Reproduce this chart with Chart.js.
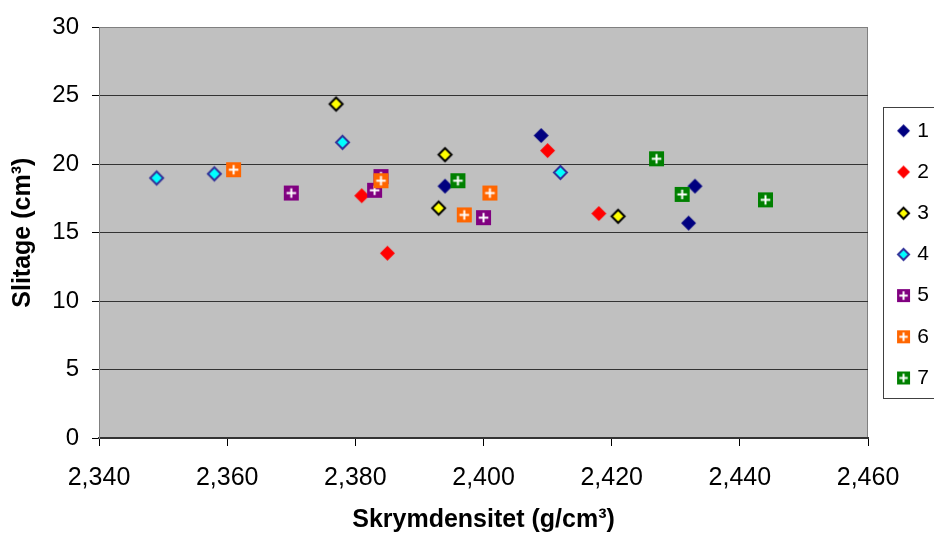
<!DOCTYPE html>
<html lang="da">
<head>
<meta charset="UTF-8">
<title>Slitage mod skrymdensitet</title>
<style>
    body, html {
        margin: 0;
        padding: 0;
        background: #fff;
        overflow: hidden;
    }
    #chart {
        display: block;
    }
</style>
</head>
<body>
<canvas id="chart" width="934" height="535"></canvas>

<script src="https://cdn.jsdelivr.net/npm/chart.js@4"></script>
<script>
    // Skrymdensitet (g/cm³) and slitage (cm³) per serie
    const labels = ['1', '2', '3', '4', '5', '6', '7'];

    const dens1 = [2.394, 2.409, 2.432, 2.433];
    const slit1 = [18.4, 22.1, 15.7, 18.4];
    const dens2 = [2.381, 2.385, 2.410, 2.418];
    const slit2 = [17.7, 13.5, 21.0, 16.4];
    const dens3 = [2.377, 2.394, 2.393, 2.421];
    const slit3 = [24.4, 20.7, 16.8, 16.2];
    const dens4 = [2.349, 2.358, 2.378, 2.412];
    const slit4 = [19.0, 19.3, 21.6, 19.4];
    const dens5 = [2.370, 2.383, 2.384, 2.400];
    const slit5 = [17.9, 18.1, 19.1, 16.1];
    const dens6 = [2.361, 2.384, 2.397, 2.401];
    const slit6 = [19.6, 18.8, 16.3, 17.9];
    const dens7 = [2.396, 2.427, 2.431, 2.444];
    const slit7 = [18.8, 20.4, 17.8, 17.4];

    const densities = [dens1, dens2, dens3, dens4, dens5, dens6, dens7];
    const wear = [slit1, slit2, slit3, slit4, slit5, slit6, slit7];

    // marker look per serie: shape, fill, outline
    const shapes = ['diamond', 'diamond', 'diamond', 'diamond', 'plus', 'plus', 'plus'];
    const fills = ['#000080', '#FF0000', '#FFFF00', '#00FFFF', '#800080', '#FF6600', '#008000'];
    const edges = [null, null, '#000000', '#333399', null, null, null];

    const FONT = "'Liberation Sans', Arial, sans-serif";

    // draws a marker into a small canvas so it can be used as pointStyle
    function makeMarker(shape, fill, edge, size, shift) {
        shift = shift || 0;
        const pad = 2;
        const c = document.createElement('canvas');
        c.width = size + pad * 2 + Math.abs(shift) * 2;
        c.height = size + pad * 2;
        const g = c.getContext('2d');
        const cx = c.width / 2 + shift;
        const cy = c.height / 2;
        const h = size / 2;
        if (shape === 'diamond') {
            const r = edge ? h - 1 : h;
            g.beginPath();
            g.moveTo(cx, cy - r);
            g.lineTo(cx + r, cy);
            g.lineTo(cx, cy + r);
            g.lineTo(cx - r, cy);
            g.closePath();
            g.fillStyle = fill;
            g.fill();
            if (edge) {
                g.lineWidth = 2;
                g.strokeStyle = edge;
                g.stroke();
            }
        } else {
            g.fillStyle = fill;
            g.fillRect(cx - h, cy - h, size, size);
            const arm = size * 0.32;
            g.strokeStyle = '#FFFFFF';
            g.lineWidth = 2;
            g.beginPath();
            g.moveTo(cx - arm, cy);
            g.lineTo(cx + arm, cy);
            g.moveTo(cx, cy - arm);
            g.lineTo(cx, cy + arm);
            g.stroke();
        }
        return c;
    }

    const plotMarks = labels.map((l, i) => makeMarker(shapes[i], fills[i], edges[i], 15, 0));
    const legendMarks = labels.map((l, i) => makeMarker(shapes[i], fills[i], edges[i], 13, 6));

    const datasets = labels.map((name, i) => ({
        label: name,
        data: densities[i].map((d, j) => ({ x: d, y: wear[i][j] })),
        pointStyle: plotMarks[i],
        pointRadius: 7,
        pointHoverRadius: 7,
        showLine: false,
        order: labels.length - i  // later series drawn on top
    }));

    // grey plot area plus the thin frame on top and right
    const plotFrame = {
        id: 'plotFrame',
        beforeDraw(chart) {
            const { ctx, chartArea: a } = chart;
            ctx.save();
            ctx.fillStyle = '#C0C0C0';
            ctx.fillRect(a.left, a.top, a.right - a.left, a.bottom - a.top);
            ctx.strokeStyle = '#808080';
            ctx.lineWidth = 1;
            ctx.beginPath();
            ctx.moveTo(Math.round(a.left) + 0.5, Math.round(a.bottom));
            ctx.lineTo(Math.round(a.left) + 0.5, Math.round(a.top) + 0.5);
            ctx.lineTo(Math.round(a.right) - 0.5, Math.round(a.top) + 0.5);
            ctx.lineTo(Math.round(a.right) - 0.5, Math.round(a.bottom));
            ctx.stroke();
            ctx.restore();
        }
    };

    // box round the legend, running off the right edge
    const legendFrame = {
        id: 'legendFrame',
        afterDraw(chart) {
            const boxes = chart.legend.legendHitBoxes;
            if (!boxes || !boxes.length) return;
            const first = boxes[0];
            const last = boxes[boxes.length - 1];
            const x = Math.round(first.left - 5) + 0.5;
            const y0 = Math.round(first.top - 13) + 0.5;
            const y1 = Math.round(last.top + last.height + 10) + 0.5;
            const ctx = chart.ctx;
            ctx.save();
            ctx.strokeStyle = '#404040';
            ctx.lineWidth = 1;
            ctx.strokeRect(x, y0, chart.width + 10 - x, y1 - y0);
            ctx.restore();
        }
    };

    new Chart(document.getElementById('chart'), {
        type: 'scatter',
        data: { datasets: datasets },
        options: {
            responsive: false,
            animation: false,
            devicePixelRatio: 1,
            layout: { padding: { top: 24, right: -5, left: 0, bottom: 0 } },
            scales: {
                x: {
                    type: 'linear',
                    min: 2.34,
                    max: 2.46,
                    afterFit(scale) { scale.height = 97; },
                    ticks: {
                        stepSize: 0.02,
                        color: '#000',
                        padding: 17,
                        maxRotation: 0,
                        font: { family: FONT, size: 25 },
                        callback: v => v.toFixed(3).replace('.', ',')
                    },
                    grid: {
                        drawOnChartArea: false,
                        drawTicks: true,
                        tickLength: 8,
                        tickColor: '#000'
                    },
                    border: { color: '#333', width: 2 },
                    title: {
                        display: true,
                        text: 'Skrymdensitet (g/cm³)',
                        color: '#000',
                        padding: { top: 0, bottom: 0 },
                        font: { family: FONT, size: 25, weight: 'bold' }
                    }
                },
                y: {
                    min: 0,
                    max: 30,
                    afterFit(scale) { scale.width = 99; },
                    ticks: {
                        stepSize: 5,
                        color: '#000',
                        padding: 13,
                        font: { family: FONT, size: 24 }
                    },
                    grid: {
                        color: c => c.tick && c.tick.value === 30 ? '#808080' : '#333333',
                        lineWidth: 1,
                        drawTicks: true,
                        tickLength: 7,
                        tickColor: '#000'
                    },
                    border: { color: '#808080' },
                    title: {
                        display: true,
                        text: 'Slitage (cm³)',
                        color: '#000',
                        padding: { top: 8, bottom: 0 },
                        font: { family: FONT, size: 25, weight: 'bold' }
                    }
                }
            },
            plugins: {
                tooltip: { enabled: false },
                legend: {
                    position: 'right',
                    align: 'center',
                    fullSize: false,
                    title: { display: true, text: '', padding: { top: 0, bottom: 29 }, font: { size: 12 } },
                    labels: {
                        usePointStyle: true,
                        pointStyleWidth: 18.6,
                        padding: 20.2,
                        color: '#000',
                        font: { family: FONT, size: 21 },
                        generateLabels: chart => chart.data.datasets.map((ds, i) => ({
                            text: ds.label,
                            pointStyle: legendMarks[i],
                            fillStyle: 'transparent',
                            strokeStyle: 'transparent',
                            lineWidth: 0,
                            hidden: false,
                            datasetIndex: i,
                            fontColor: '#000'
                        }))
                    }
                }
            }
        },
        plugins: [plotFrame, legendFrame]
    });
</script>
</body>
</html>
